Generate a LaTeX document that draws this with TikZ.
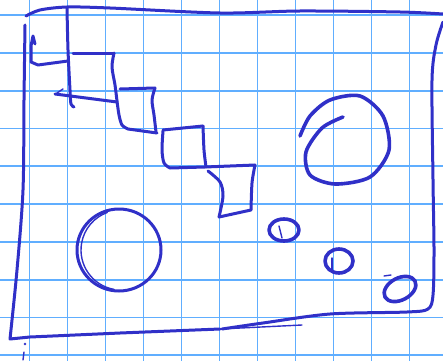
\documentclass[tikz,border=0pt]{standalone}
\definecolor{gridblue}{RGB}{96,174,255}
\definecolor{ink}{RGB}{48,48,200}

\begin{document}
\begin{tikzpicture}[
  x=1pt, y=-1pt,
  pen/.style={draw=ink, line width=3pt, line cap=round, line join=round},
  thinpen/.style={draw=ink, line width=1.4pt, line cap=round},
  gridline/.style={draw=gridblue, line width=1.8pt}
]
  \useasboundingbox (0,0) rectangle (443,361);
  \fill[white] (0,0) rectangle (443,361);
  \foreach \k in {0,...,10} \draw[gridline] (29.5+38*\k,0) -- (29.5+38*\k,361);
  \foreach \k in {0,...,9}  \draw[gridline] (0,15+37.8*\k) -- (443,15+37.8*\k);

  \draw[pen] plot[smooth] coordinates {(26,16) (40,10) (67,7) (110,8) (220,13) (300,11) (400,12) (443,14)};
  \draw[pen] plot[smooth] coordinates {(25,25) (24,100) (23,190) (17,270) (10,339)} -- (30,337) -- (120,333) -- (220,329);
  \draw[thinpen] (220,329) -- (302,325);
  \draw[pen] plot[smooth] coordinates {(443,22) (436,45) (432,80) (433,180) (434,250) (433,295) (428,309) (407,312) (330,314) (263,323) (222,329)};
  \fill[ink] (25,344) circle (1.4);
  \draw[thinpen] (24,352) -- (23,360);

  \draw[pen] plot[smooth] coordinates {(67,8) (68,50) (70,90) (71,104) (74,107)};
  \draw[pen] (35,44) -- (33,36) -- (31,46) -- (31,62) -- (38,65) -- (68,61);
  \draw[pen] (73,53) -- (114,53);
  \draw[pen] plot[smooth] coordinates {(114,53) (112,67) (115,85) (117,101)};
  \draw[pen] (55,94) -- (117,102);
  \draw[thinpen] (57,93) -- (63,89);
  \draw[pen] (120,89) -- (155,88);
  \draw[pen] plot[smooth] coordinates {(155,88) (152,100) (154,115) (156,132)};
  \draw[pen] plot[smooth] coordinates {(117,101) (119,115) (122,125) (128,129)} -- (157,133);
  \draw[pen] (163,130) -- (203,126);
  \draw[pen] plot[smooth] coordinates {(203,126) (204,150) (206,167)};
  \draw[pen] plot[smooth] coordinates {(163,131) (162,150) (164,163) (170,168)} -- (205,167) -- (255,165);
  \draw[pen] plot[smooth] coordinates {(255,165) (252,183) (251,210)} -- (219,217);
  \draw[pen] plot[smooth] coordinates {(208,171) (220,182) (223,196) (219,217)};

  \draw[pen] (119,250) ellipse [x radius=42, y radius=41];
  \draw[thinpen] (121,250) ++(100:40) arc [start angle=100, end angle=250, radius=40];
  \draw[pen, line width=3.6pt] plot[smooth] coordinates {(343,117) (322,128) (306,152) (310,175) (335,184) (370,177) (389,150) (383,116) (360,96) (330,100) (310,116) (300,136)};

  \draw[pen, line width=3.6pt] (284,230) ellipse [x radius=15, y radius=11];
  \draw[thinpen] (279,226) -- (282,238);
  \draw[pen, line width=3.6pt] (339,261) ellipse [x radius=14, y radius=12];
  \draw[thinpen] (332,258) -- (332,272);
  \draw[pen, line width=3.6pt, rotate around={28:(400,289)}] (400,289) ellipse [x radius=17, y radius=11];
  \draw[thinpen] (384,276) -- (391,275);
\end{tikzpicture}
\end{document}
